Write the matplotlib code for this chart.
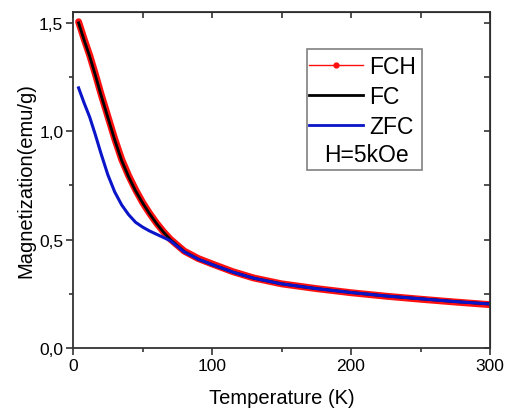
import numpy as np
import matplotlib.pyplot as plt
from matplotlib.lines import Line2D
from matplotlib.patches import Rectangle
from matplotlib.ticker import FuncFormatter, MultipleLocator

plt.rcParams['font.family'] = ['Liberation Sans', 'DejaVu Sans']

# temperatura (K) i magnetizacija (emu/g)
T = [4, 8, 12, 16, 20, 25, 30, 35, 40, 45, 50, 55, 60, 65, 70, 80, 90, 100,
     115, 130, 150, 175, 200, 225, 250, 275, 300]
M_fch = [1.505, 1.425, 1.35, 1.265, 1.175, 1.07, 0.965, 0.87, 0.795, 0.73, 0.672,
         0.622, 0.577, 0.537, 0.502, 0.447, 0.413, 0.388, 0.352, 0.323, 0.296,
         0.274, 0.255, 0.239, 0.225, 0.212, 0.200]
M_fc = [1.50, 1.42, 1.345, 1.26, 1.17, 1.065, 0.96, 0.865, 0.79, 0.725, 0.67,
        0.62, 0.575, 0.535, 0.50, 0.445, 0.41, 0.385, 0.35, 0.322, 0.296,
        0.274, 0.256, 0.24, 0.227, 0.214, 0.203]
M_zfc = [1.20, 1.13, 1.065, 0.985, 0.90, 0.80, 0.72, 0.66, 0.615, 0.58, 0.558,
         0.54, 0.525, 0.51, 0.495, 0.443, 0.41, 0.385, 0.35, 0.322, 0.296,
         0.274, 0.256, 0.24, 0.227, 0.214, 0.203]

fig = plt.figure(figsize=(5.06, 4.10), dpi=100)
ax = fig.add_axes([0.1443, 0.1488, 0.8241, 0.8195])

ax.plot(T, M_fch, color='#ff1010', lw=5, solid_capstyle='round')
ax.plot(T, M_fc, color='black', lw=2)
ax.plot(T, M_zfc, color='#0a14c8', lw=2.2)

ax.set_xlim(0, 300)
ax.set_ylim(0, 1.55)
ax.xaxis.set_major_locator(MultipleLocator(100))
ax.xaxis.set_minor_locator(MultipleLocator(50))
ax.yaxis.set_major_locator(MultipleLocator(0.5))
ax.yaxis.set_minor_locator(MultipleLocator(0.25))
ax.yaxis.set_major_formatter(FuncFormatter(lambda v, p: f'{v:.1f}'.replace('.', ',')))
ax.xaxis.set_major_formatter(FuncFormatter(lambda v, p: f'{v:.0f}'))

for s in ax.spines.values():
    s.set_linewidth(1.3)
    s.set_color('#333333')
ax.tick_params(which='both', direction='out', top=False, right=False,
               labelsize=12.5, color='#333333', width=1.2, pad=2)
ax.tick_params(which='major', length=5)
ax.tick_params(which='minor', length=3)
# gornja i desna os: crtice prema unutra
sec_x = ax.secondary_xaxis('top')
sec_x.xaxis.set_major_locator(MultipleLocator(50))
sec_x.tick_params(direction='in', length=4, width=1.2, labeltop=False, color='#333333')
sec_y = ax.secondary_yaxis('right')
sec_y.yaxis.set_major_locator(MultipleLocator(0.25))
sec_y.tick_params(direction='in', length=4, width=1.2, labelright=False, color='#333333')

ax.set_xlabel('Temperature (K)', fontsize=14.5, labelpad=11)
ax.set_ylabel('Magnetization(emu/g)', fontsize=14.5, labelpad=3)

handles = [Line2D([], [], color='#ff1010', lw=1, marker='o', markersize=3.5),
           Line2D([], [], color='black', lw=2),
           Line2D([], [], color='#0a14c8', lw=2)]
ax.legend(handles, ['FCH', 'FC', 'ZFC'], loc='upper left',
          bbox_to_anchor=(0.566, 0.873), frameon=False, fontsize=16.5,
          borderpad=0, borderaxespad=0, handlelength=2.36, handletextpad=0.26,
          labelspacing=0.32, numpoints=1)
ax.text(0.703, 0.577, 'H=5kOe', transform=ax.transAxes, fontsize=16.5,
        ha='center', va='center')
ax.add_patch(Rectangle((0.561, 0.530), 0.276, 0.36, transform=ax.transAxes,
                       fill=False, edgecolor='#808080', lw=1.2, clip_on=False))

fig.savefig('out.png', dpi=100)
